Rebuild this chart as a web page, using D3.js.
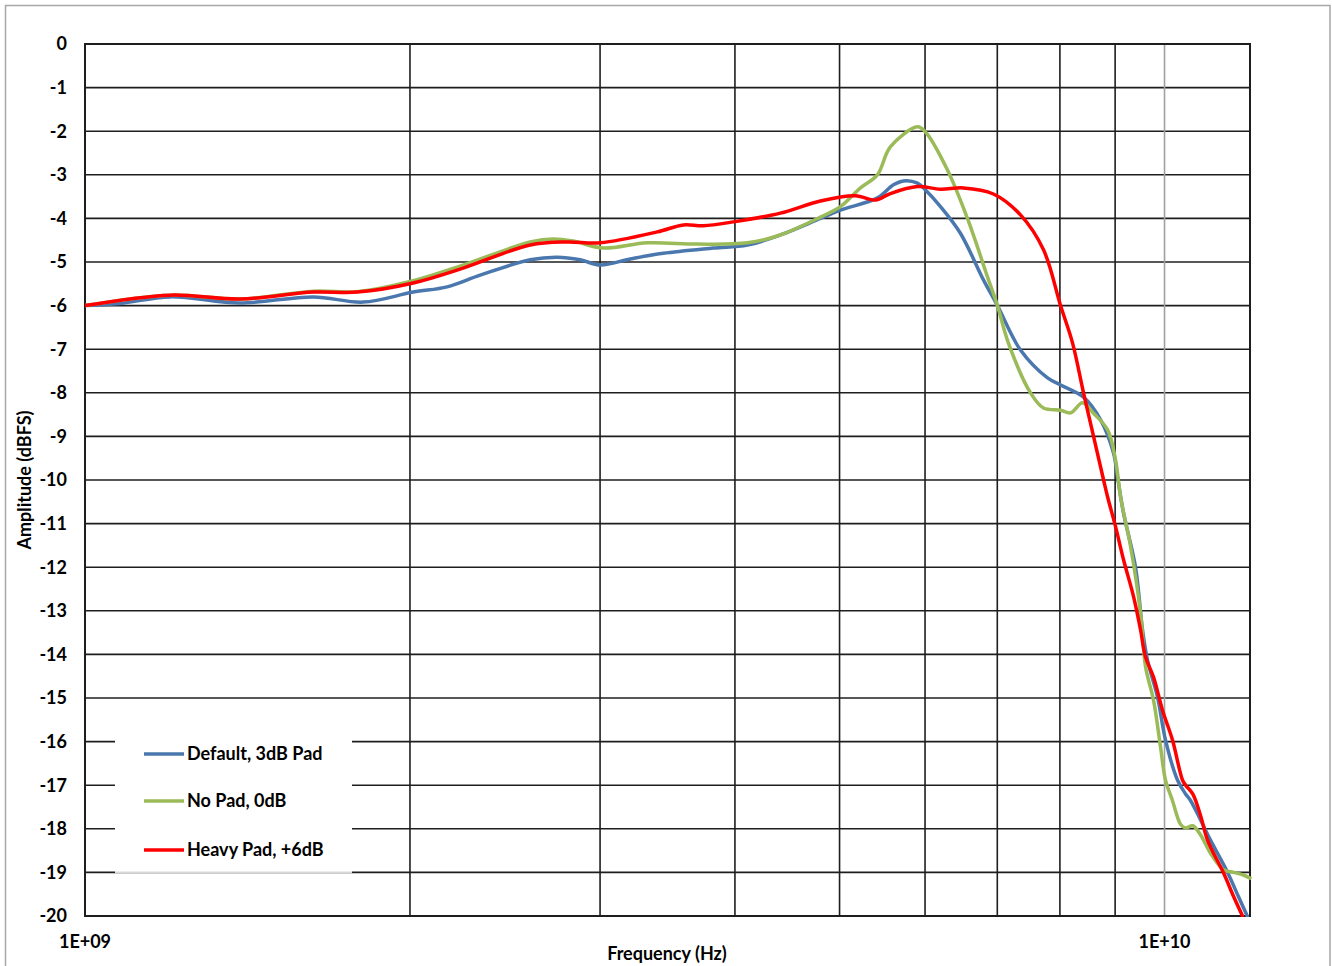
<!DOCTYPE html>
<html>
<head>
<meta charset="utf-8">
<script src="https://cdn.jsdelivr.net/npm/d3@7/dist/d3.min.js"></script>
<style>
  html, body { margin: 0; padding: 0; background: #fff; }
  svg { display: block; }
  text { font-family: Lato, "Open Sans", "DejaVu Sans", sans-serif; font-weight: bold; fill: #000; }
</style>
</head>
<body>
<svg id="chart" width="1332" height="966"></svg>
<script>
// Frequency response of the three pad settings (frequency in GHz, amplitude in dBFS)
const defaultFreq = [1.000, 1.078, 1.199, 1.392, 1.627, 1.810, 2.014, 2.165, 2.323, 2.585, 2.738, 2.876, 3.001, 3.200, 3.433, 3.819, 4.108, 4.407, 4.800, 5.009, 5.420, 5.609, 5.730, 5.904, 6.006, 6.201, 6.470, 6.796, 7.002, 7.355, 7.792, 8.011, 8.413, 8.725, 8.969, 9.046, 9.163, 9.400, 9.542, 9.643, 9.852, 10.02, 10.28, 10.46, 10.57, 10.80, 11.03, 11.44, 11.71, 11.93];
const defaultDb   = [-6.00, -5.95, -5.80, -5.94, -5.80, -5.92, -5.69, -5.57, -5.30, -4.95, -4.89, -4.95, -5.07, -4.93, -4.80, -4.68, -4.61, -4.38, -4.00, -3.81, -3.53, -3.23, -3.14, -3.19, -3.35, -3.73, -4.34, -5.41, -6.00, -7.02, -7.66, -7.82, -8.10, -8.62, -9.38, -9.93, -10.76, -12.00, -13.44, -14.13, -14.98, -15.96, -16.88, -17.20, -17.35, -17.80, -18.26, -19.00, -19.56, -20.00];

const noPadFreq = [1.000, 1.199, 1.392, 1.627, 1.787, 2.014, 2.240, 2.585, 2.715, 2.834, 3.020, 3.318, 3.692, 4.108, 4.407, 4.800, 5.009, 5.228, 5.420, 5.572, 5.904, 6.006, 6.294, 6.568, 6.855, 7.002, 7.168, 7.513, 7.725, 8.011, 8.185, 8.395, 8.595, 8.857, 9.008, 9.105, 9.302, 9.502, 9.603, 9.768, 9.915, 10.02, 10.17, 10.35, 10.46, 10.62, 10.80, 11.03, 11.34, 11.59, 11.83, 12.00];
const noPadDb   = [-6.00, -5.76, -5.85, -5.67, -5.68, -5.43, -5.07, -4.54, -4.47, -4.52, -4.68, -4.56, -4.59, -4.56, -4.38, -3.97, -3.73, -3.30, -3.00, -2.36, -1.90, -2.02, -2.89, -4.00, -5.34, -6.00, -6.86, -8.00, -8.35, -8.40, -8.46, -8.23, -8.47, -8.85, -9.54, -10.39, -11.53, -13.05, -14.28, -15.05, -16.12, -16.88, -17.35, -17.90, -17.98, -17.93, -18.14, -18.56, -18.94, -19.00, -19.06, -19.13];

const heavyFreq = [1.000, 1.199, 1.392, 1.627, 1.787, 2.014, 2.240, 2.585, 2.797, 3.001, 3.389, 3.583, 3.739, 3.987, 4.407, 4.800, 5.172, 5.398, 5.572, 5.904, 6.201, 6.512, 6.942, 7.355, 7.725, 8.011, 8.219, 8.413, 8.595, 8.781, 8.857, 9.008, 9.163, 9.362, 9.502, 9.603, 9.768, 9.957, 10.17, 10.39, 10.46, 10.62, 10.80, 10.96, 11.34, 11.59, 11.81];
const heavyDb   = [-6.00, -5.76, -5.85, -5.69, -5.69, -5.48, -5.14, -4.61, -4.54, -4.56, -4.31, -4.15, -4.17, -4.08, -3.88, -3.60, -3.48, -3.58, -3.43, -3.27, -3.33, -3.30, -3.44, -3.92, -4.72, -6.00, -6.86, -8.00, -9.00, -10.00, -10.39, -11.07, -11.83, -12.68, -13.44, -14.06, -14.52, -15.28, -15.96, -16.88, -17.00, -17.20, -17.70, -18.26, -19.01, -19.56, -20.00];

const seriesNames  = ["Default, 3dB Pad", "No Pad, 0dB", "Heavy Pad, +6dB"];
const seriesColors = ["#4a78ae", "#9bbb59", "#ff0000"];

const yTicks = d3.range(0, -21, -1);
const xGridGHz = [2, 3, 4, 5, 6, 7, 8, 9, 10];
const xTickLabels = [{ f: 1e9, label: "1E+09" }, { f: 1e10, label: "1E+10" }];

const margin = { left: 85, top: 44, right: 1250, bottom: 916 };

const svg = d3.select("#chart");

// outer chart frame
svg.append("rect")
  .attr("x", 5.5).attr("y", 5.5)
  .attr("width", 1324.5).attr("height", 980)
  .attr("fill", "none").attr("stroke", "#a6a6a6").attr("stroke-width", 1.5);

const x = d3.scaleLog().domain([1e9, 1.2e10]).range([margin.left, margin.right]);
const y = d3.scaleLinear().domain([-20, 0]).range([margin.bottom, margin.top]);

const grid = svg.append("g");

// horizontal gridlines
grid.selectAll("line.h").data(yTicks).join("line")
  .attr("x1", margin.left).attr("x2", margin.right)
  .attr("y1", d => y(d)).attr("y2", d => y(d))
  .attr("stroke", "#1e1e1e").attr("stroke-width", 1.6);

// vertical gridlines
grid.selectAll("line.v").data(xGridGHz).join("line")
  .attr("x1", d => x(d * 1e9)).attr("x2", d => x(d * 1e9))
  .attr("y1", margin.top).attr("y2", margin.bottom)
  .attr("stroke", d => d === 10 ? "#a0a0a0" : "#1e1e1e")
  .attr("stroke-width", 1.6);

// plot border
svg.append("rect")
  .attr("x", margin.left).attr("y", margin.top)
  .attr("width", margin.right - margin.left).attr("height", margin.bottom - margin.top)
  .attr("fill", "none").attr("stroke", "#1e1e1e").attr("stroke-width", 2);

// y tick labels
svg.append("g").selectAll("text").data(yTicks).join("text")
  .attr("x", 67).attr("y", d => y(d))
  .attr("dy", "0.35em")
  .attr("text-anchor", "end")
  .style("font-size", "18px")
  .text(d => d);

// x tick labels
svg.append("g").selectAll("text").data(xTickLabels).join("text")
  .attr("x", d => x(d.f)).attr("y", 942)
  .attr("dy", "0.35em")
  .attr("text-anchor", "middle")
  .style("font-size", "18px")
  .text(d => d.label);

// axis titles
svg.append("text")
  .attr("x", 667).attr("y", 954).attr("dy", "0.35em")
  .attr("text-anchor", "middle").style("font-size", "18px")
  .text("Frequency (Hz)");

svg.append("text")
  .attr("transform", "translate(25,480) rotate(-90)")
  .attr("dy", "0.35em")
  .attr("text-anchor", "middle").style("font-size", "18px")
  .text("Amplitude (dBFS)");

// data lines
const series = [
  { freq: defaultFreq, db: defaultDb },
  { freq: noPadFreq, db: noPadDb },
  { freq: heavyFreq, db: heavyDb }
];

const line = d3.line()
  .x(d => x(d[0] * 1e9))
  .y(d => y(d[1]))
  .curve(d3.curveCatmullRom.alpha(0.5));

svg.append("defs").append("clipPath").attr("id", "plotClip")
  .append("rect")
  .attr("x", margin.left).attr("y", margin.top - 2)
  .attr("width", margin.right - margin.left + 2).attr("height", margin.bottom - margin.top + 3);

const lines = svg.append("g").attr("clip-path", "url(#plotClip)");
series.forEach((s, i) => {
  const pts = s.freq.map((f, j) => [f, s.db[j]]);
  lines.append("path")
    .datum(pts)
    .attr("d", line)
    .attr("fill", "none")
    .attr("stroke", seriesColors[i])
    .attr("stroke-width", 3.5)
    .attr("stroke-linejoin", "round")
    .attr("stroke-linecap", "round");
});

// legend
const legend = svg.append("g");
legend.append("rect")
  .attr("x", 115).attr("y", 734)
  .attr("width", 237).attr("height", 138.5)
  .attr("fill", "#fff");
legend.append("line")
  .attr("x1", 115).attr("x2", 352)
  .attr("y1", y(-19)).attr("y2", y(-19))
  .attr("stroke", "#d9d9d9").attr("stroke-width", 1.6);

const legendY = [754, 801, 850];
seriesNames.forEach((name, i) => {
  legend.append("line")
    .attr("x1", 144).attr("x2", 184)
    .attr("y1", legendY[i]).attr("y2", legendY[i])
    .attr("stroke", seriesColors[i]).attr("stroke-width", 3.5);
  legend.append("text")
    .attr("x", 187).attr("y", legendY[i]).attr("dy", "0.35em")
    .style("font-size", "18px")
    .text(name);
});
</script>
</body>
</html>
